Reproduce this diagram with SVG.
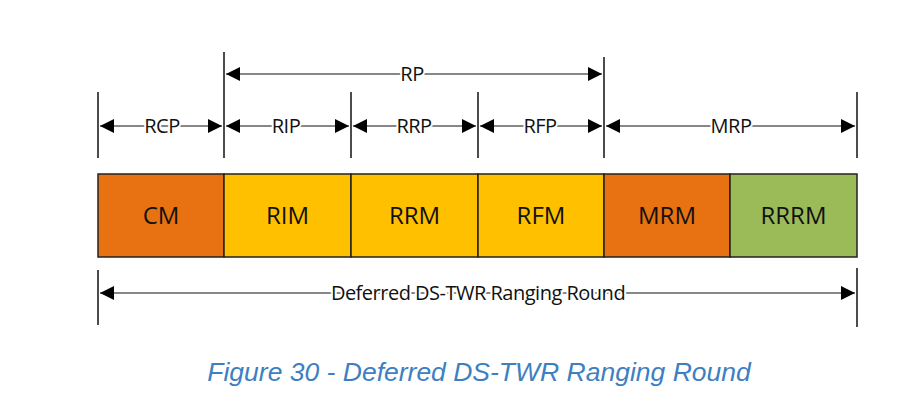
<svg xmlns="http://www.w3.org/2000/svg" width="912" height="417" viewBox="0 0 912 417">
<style>
.b{stroke:#222;stroke-width:1.5}
.t{stroke:#111;stroke-width:1.5}
.l{stroke:#111;stroke-width:1.2;fill:none}
.bl{font-family:"Open Sans","Liberation Sans",sans-serif;font-size:24px;fill:#111;text-anchor:middle}
.dl{font-family:"Open Sans","Liberation Sans",sans-serif;font-size:20px;fill:#111;text-anchor:middle;stroke:#fff;stroke-width:4px;paint-order:stroke;letter-spacing:-0.5px}
</style>
<defs>
<marker id="a" viewBox="0 0 10 10" refX="10" refY="5" markerWidth="16" markerHeight="14" markerUnits="userSpaceOnUse" orient="auto-start-reverse"><path d="M0,0L10,5L0,10z" fill="#000"/></marker>
</defs>
<rect width="912" height="417" fill="#fff"/>
<g id="CM"><rect class="b" x="98" y="174" width="126" height="83" fill="#E87111"/><text class="bl" x="161" y="224">CM</text></g>
<g id="RIM"><rect class="b" x="224" y="174" width="127" height="83" fill="#FFC000"/><text class="bl" x="287.5" y="224">RIM</text></g>
<g id="RRM"><rect class="b" x="351" y="174" width="127" height="83" fill="#FFC000"/><text class="bl" x="414.5" y="224">RRM</text></g>
<g id="RFM"><rect class="b" x="478" y="174" width="126" height="83" fill="#FFC000"/><text class="bl" x="541" y="224">RFM</text></g>
<g id="MRM"><rect class="b" x="604" y="174" width="126" height="83" fill="#E87111"/><text class="bl" x="667" y="224">MRM</text></g>
<g id="RRRM"><rect class="b" x="730" y="174" width="127" height="83" fill="#9BBB59"/><text class="bl" x="793.5" y="224">RRRM</text></g>
<g id="connectors">
<line class="t" x1="98" y1="92" x2="98" y2="158"/>
<line class="t" x1="224" y1="52" x2="224" y2="158"/>
<line class="t" x1="351" y1="92" x2="351" y2="158"/>
<line class="t" x1="478" y1="92" x2="478" y2="158"/>
<line class="t" x1="604" y1="57" x2="604" y2="158"/>
<line class="t" x1="857" y1="92" x2="857" y2="158"/>
<line class="t" x1="98" y1="270" x2="98" y2="325"/>
<line class="t" x1="857" y1="268" x2="857" y2="327"/>
<path class="l" d="M226,74H602" marker-start="url(#a)" marker-end="url(#a)"/>
<path class="l" d="M100,126H222" marker-start="url(#a)" marker-end="url(#a)"/>
<path class="l" d="M226,126H349" marker-start="url(#a)" marker-end="url(#a)"/>
<path class="l" d="M353,126H476" marker-start="url(#a)" marker-end="url(#a)"/>
<path class="l" d="M480,126H602" marker-start="url(#a)" marker-end="url(#a)"/>
<path class="l" d="M606,126H855" marker-start="url(#a)" marker-end="url(#a)"/>
<path class="l" d="M100,293H855" marker-start="url(#a)" marker-end="url(#a)"/>
</g>
<g id="labels">
<text class="dl" x="412" y="81">RP</text>
<text class="dl" x="162" y="133">RCP</text>
<text class="dl" x="286" y="133">RIP</text>
<text class="dl" x="414" y="133">RRP</text>
<text class="dl" x="540" y="133">RFP</text>
<text class="dl" x="731" y="133">MRP</text>
<text class="dl" x="478" y="300">Deferred DS-TWR Ranging Round</text>
</g>
<text x="479" y="381" font-family="Liberation Sans,Arial,sans-serif" font-size="26.5" font-style="italic" fill="#3E7FC1" text-anchor="middle">Figure 30 - Deferred DS-TWR Ranging Round</text>
</svg>
